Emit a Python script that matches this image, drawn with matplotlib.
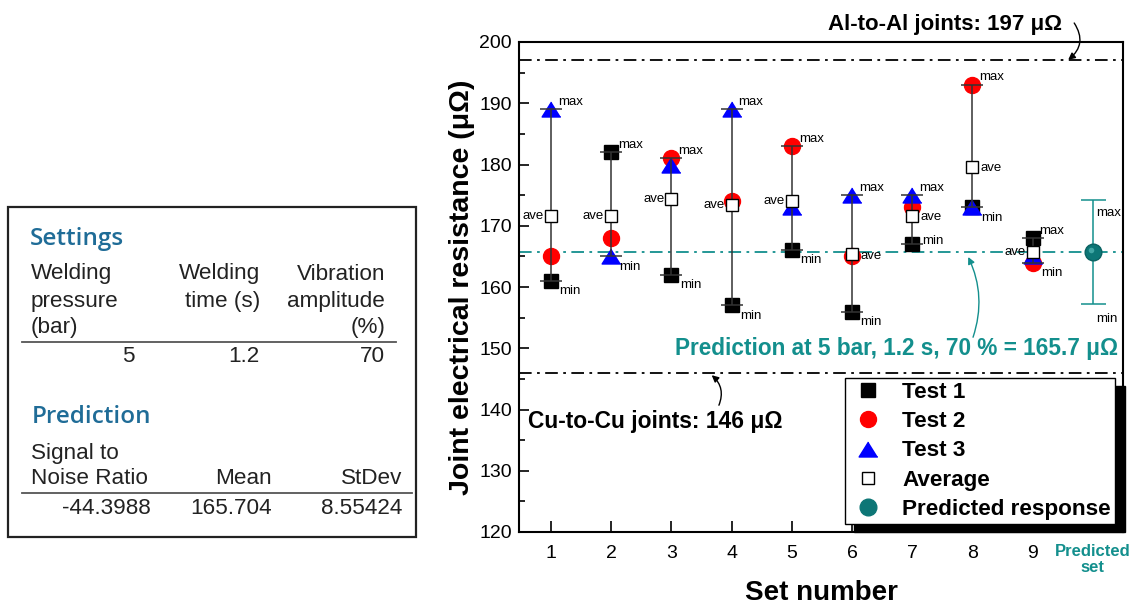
import matplotlib.pyplot as plt
import matplotlib.transforms as mtransforms
from matplotlib.lines import Line2D
import numpy as np

# measured resistances (micro-ohm) for the nine L9 sets
sets = [1, 2, 3, 4, 5, 6, 7, 8, 9]
test1 = [161, 182, 162, 157, 166, 156, 167, 173, 168]
test2 = [165, 168, 181, 174, 183, 165, 173, 193, 164]
test3 = [189, 165, 180, 189, 173, 175, 175, 173, 165]
ave_side = ['left', 'left', 'left', 'left', 'left', 'right', 'right', 'right', 'left']
min_side = ['below', 'below', 'below', 'below', 'below', 'below', 'side', 'below', 'below']

pred_set = 10
pred_mean = 165.704
pred_sd = 8.55424
al_level = 197
cu_level = 146
xtick_labels = ['1', '2', '3', '4', '5', '6', '7', '8', '9', 'Predicted\nset']

# minitab style table on the left
settings_head = ['Welding\npressure\n(bar)', 'Welding\ntime (s)', 'Vibration\namplitude\n(%)']
settings_vals = ['5', '1.2', '70']
pred_head = ['Signal to\nNoise Ratio', 'Mean', 'StDev']
pred_vals = ['-44.3988', '165.704', '8.55424']

TEAL = '#138f8d'
plt.rcParams['font.family'] = ['Liberation Sans', 'DejaVu Sans']

fig = plt.figure(figsize=(11.37, 6.07), dpi=100)

# ---- table (pixel coordinates) ----
tb = fig.add_axes([0, 0, 1, 1], zorder=-1)
tb.set_xlim(0, 1137)
tb.set_ylim(607, 0)
tb.axis('off')
tb.add_patch(plt.Rectangle((8, 207), 408, 330, fill=False, ec='#222222', lw=1.6))

tfont = dict(fontsize=16.2, color='#222222')
hfont = dict(fontsize=17.5, color='#1f6c97', fontweight='semibold',
             family=['Open Sans', 'Lato', 'DejaVu Sans'])
tb.text(30, 239, 'Settings', va='center', ha='left', **hfont)
col_x = [31, 260, 385]
col_ha = ['left', 'right', 'right']
for h, x, ha in zip(settings_head, col_x, col_ha):
    for i, line in enumerate(h.split('\n')):
        tb.text(x, 274 + 27 * i, line, ha=ha, va='center', **tfont)
tb.plot([22, 396], [342, 342], color='#555555', lw=1.3)
for v, x in zip(settings_vals, [135, 260, 385]):
    tb.text(x, 357, v, ha='right', va='center', **tfont)

tb.text(32, 417, 'Prediction', va='center', ha='left', **hfont)
col_x = [31, 272, 402]
for h, x, ha in zip(pred_head, col_x, col_ha):
    lines = h.split('\n')
    for i, line in enumerate(lines):
        tb.text(x, 479 - 26 * (len(lines) - 1 - i), line, ha=ha, va='center', **tfont)
tb.plot([22, 412], [493, 493], color='#555555', lw=1.3)
for v, x in zip(pred_vals, [151, 272, 402]):
    tb.text(x, 508, v, ha='right', va='center', **tfont)

# ---- main chart ----
ax = fig.add_axes([519 / 1137, 75 / 607, 604 / 1137, 490 / 607])

t1 = np.array(test1)
t2 = np.array(test2)
t3 = np.array(test3)
allv = np.vstack([t1, t2, t3])
mx = allv.max(axis=0)
mn = allv.min(axis=0)
ave = allv.mean(axis=0)

tri = [(0, 0.8), (-1, -0.8), (1, -0.8)]
ax.plot(sets, test1, 's', color='black', ms=9.5, label='Test 1', zorder=3)
ax.plot(sets, test2, 'o', color='red', ms=11.5, label='Test 2', zorder=3)
ax.plot(sets, test3, marker=tri, ls='none', color='blue', ms=13.5, label='Test 3', zorder=3)
ax.errorbar(sets, ave, yerr=[ave - mn, mx - ave], fmt='none', ecolor='#333333',
            elinewidth=1.1, capsize=8, capthick=1.1, zorder=4)
ax.plot(sets, ave, 's', mfc='white', mec='black', mew=1, ms=9, label='Average', zorder=5)

fs_small = 9.5
for i, x in enumerate(sets):
    ax.annotate('max', (x, mx[i]), xytext=(5, 1), textcoords='offset points',
                ha='left', va='bottom', fontsize=fs_small)
    if min_side[i] == 'below':
        ax.annotate('min', (x, mn[i]), xytext=(6, -3), textcoords='offset points',
                    ha='left', va='top', fontsize=fs_small)
    else:
        ax.annotate('min', (x, mn[i]), xytext=(7, 2), textcoords='offset points',
                    ha='left', va='center', fontsize=fs_small)
    if ave_side[i] == 'left':
        ax.annotate('ave', (x, ave[i]), xytext=(-5, 0), textcoords='offset points',
                    ha='right', va='center', fontsize=fs_small)
    else:
        ax.annotate('ave', (x, ave[i]), xytext=(6, -1), textcoords='offset points',
                    ha='left', va='center', fontsize=fs_small)

# predicted response with +/- one standard deviation
ax.errorbar([pred_set], [pred_mean], yerr=[pred_sd], fmt='none', ecolor=TEAL,
            elinewidth=1.1, capsize=9, capthick=1.1, zorder=4)
ax.plot([pred_set], [pred_mean], 'o', color='#0d7676', mec='#0a6262', ms=12, zorder=6)
hl = mtransforms.offset_copy(ax.transData, fig=fig, x=-1.3, y=1.3, units='points')
ax.plot([pred_set], [pred_mean], 'o', color='#4fb3b1', mec='none', ms=4, alpha=0.8,
        transform=hl, zorder=7)
ax.annotate('max', (pred_set, pred_mean + pred_sd), xytext=(2, -5), textcoords='offset points',
            ha='left', va='top', fontsize=fs_small)
ax.annotate('min', (pred_set, pred_mean - pred_sd), xytext=(2, -6), textcoords='offset points',
            ha='left', va='top', fontsize=fs_small)

# reference levels
dd = (0, (7, 3, 1.5, 3))
ax.axhline(al_level, color='black', lw=1.3, ls=dd, zorder=2)
ax.axhline(cu_level, color='black', lw=1.3, ls=dd, zorder=2)
ax.axhline(pred_mean, color=TEAL, lw=1.3, ls=dd, zorder=2)

ax.text(7.54, 202.9, 'Al-to-Al joints: 197 \u03bc\u03a9', ha='center', va='center',
        fontsize=16, fontweight='bold', clip_on=False)
ax.annotate('', xy=(9.59, 197.1), xytext=(9.69, 203.1), annotation_clip=False,
            arrowprops=dict(arrowstyle='-|>', color='black', lw=1, mutation_scale=10,
                            connectionstyle='arc3,rad=-0.45', shrinkA=0, shrinkB=0))
ax.text(0.62, 138.1, 'Cu-to-Cu joints: 146 \u03bc\u03a9', ha='left', va='center',
        fontsize=16.4, fontweight='bold')
ax.annotate('', xy=(3.67, 145.6), xytext=(3.79, 140.7),
            arrowprops=dict(arrowstyle='-|>', color='black', lw=1, mutation_scale=10,
                            connectionstyle='arc3,rad=0.35', shrinkA=0, shrinkB=0))
ax.text(10.42, 149.9, 'Prediction at 5 bar, 1.2 s, 70 % = 165.7 \u03bc\u03a9', ha='right',
        va='center', fontsize=16.3, fontweight='bold', color=TEAL)
ax.annotate('', xy=(7.93, 164.9), xytext=(8.01, 151.8),
            arrowprops=dict(arrowstyle='-|>', color=TEAL, lw=1, mutation_scale=10,
                            connectionstyle='arc3,rad=0.2', shrinkA=0, shrinkB=0))

ax.set_xlim(0.47, 10.5)
ax.set_ylim(120, 200)
ax.set_yticks(np.arange(120, 201, 10))
ax.set_yticks(np.arange(120, 201, 5), minor=True)
ax.set_xticks(sets + [pred_set])
ax.set_xticklabels(xtick_labels)
ax.tick_params(axis='y', which='major', direction='in', length=7, width=1.2, labelsize=14, pad=5)
ax.tick_params(axis='y', which='minor', direction='in', length=4, width=1.2)
ax.tick_params(axis='x', which='major', direction='in', length=8, width=1.2, labelsize=14, pad=9)
lab = ax.get_xticklabels()[-1]
lab.set_color(TEAL)
lab.set_fontweight('bold')
lab.set_fontsize(12)
lab.set_linespacing(1.0)
for s in ax.spines.values():
    s.set_linewidth(1.5)

ax.set_ylabel('Joint electrical resistance (\u03bc\u03a9)', fontsize=20.5, fontweight='bold', labelpad=3)
ax.set_xlabel('Set number', fontsize=20, fontweight='bold', labelpad=4)

handles, labels = ax.get_legend_handles_labels()
handles.append(Line2D([], [], ls='none', marker='o', color='#0d7676', ms=12))
labels.append('Predicted response')
leg = ax.legend(handles, labels, loc='lower right', bbox_to_anchor=(0.987, 0.016),
                borderaxespad=0, fancybox=False, framealpha=1, edgecolor='black',
                prop=dict(weight='bold', size=16.2), handlelength=1.65,
                handletextpad=0.7, labelspacing=0.36, borderpad=0.2,
                shadow=dict(ox=7, oy=-6, facecolor='black', edgecolor='black', alpha=1))
leg.get_frame().set_linewidth(1.0)
leg.set_zorder(10)

fig.savefig('out.png', dpi=100)
